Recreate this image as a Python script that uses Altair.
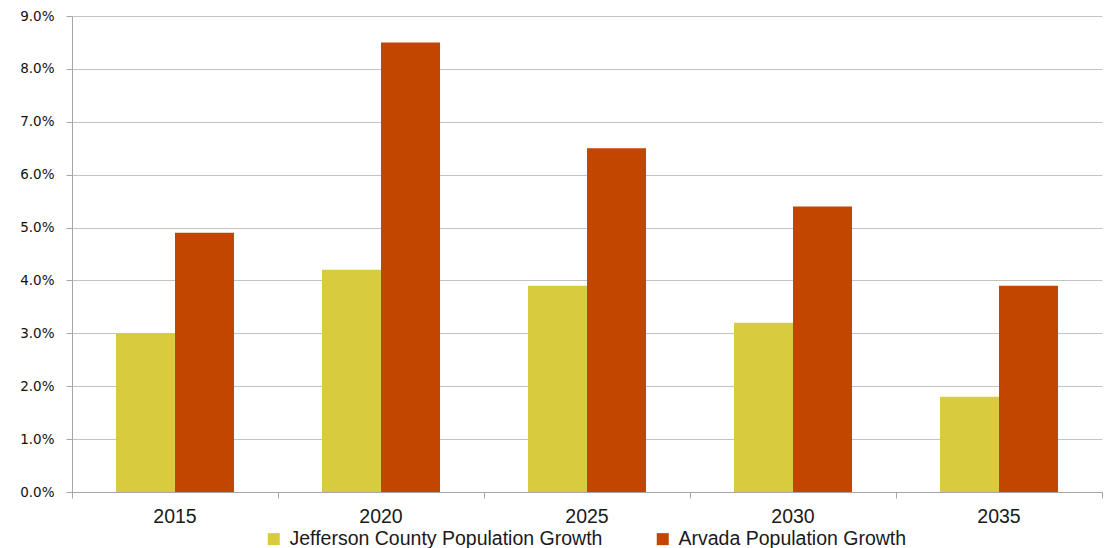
import altair as alt
import pandas as pd

years = ["2015", "2020", "2025", "2030", "2035"]
series_names = ["Jefferson County Population Growth", "Arvada Population Growth"]
jefferson_growth = [0.030, 0.042, 0.039, 0.032, 0.018]
arvada_growth = [0.049, 0.085, 0.065, 0.054, 0.039]
series_colors = ["#D8CB3E", "#C24600"]
y_ticks = [0.00, 0.01, 0.02, 0.03, 0.04, 0.05, 0.06, 0.07, 0.08, 0.09]
band_edges = [0, 1, 2, 3, 4, 5]

rows = []
for i, yr in enumerate(years):
    rows.append({"year": yr, "series": series_names[0], "growth": jefferson_growth[i]})
    rows.append({"year": yr, "series": series_names[1], "growth": arvada_growth[i]})
df = pd.DataFrame(rows)
edges_df = pd.DataFrame({"edge": band_edges})

bars = alt.Chart(df).mark_bar().encode(
    x=alt.X(
        "year:N",
        sort=years,
        title=None,
        scale=alt.Scale(paddingInner=0.427, paddingOuter=0.2135),
        axis=alt.Axis(
            orient="bottom",
            ticks=False,
            tickSize=0,
            labelAngle=0,
            labelFont="Liberation Sans",
            labelFontSize=19.5,
            labelColor="#1a1a1a",
            labelPadding=15,
            domainColor="#a6a6a6",
            domainWidth=1,
            grid=False,
        ),
    ),
    xOffset=alt.XOffset("series:N", sort=series_names),
    y=alt.Y(
        "growth:Q",
        title=None,
        scale=alt.Scale(domain=[0, 0.09], nice=False),
        axis=alt.Axis(
            values=y_ticks,
            format=".1%",
            labelFont="DejaVu Sans",
            labelFontSize=13.5,
            labelColor="#111111",
            labelPadding=12,
            tickSize=6,
            tickColor="#a6a6a6",
            domainColor="#a6a6a6",
            gridColor="#c3c3c3",
            gridWidth=1,
        ),
    ),
    color=alt.Color(
        "series:N",
        sort=series_names,
        scale=alt.Scale(domain=series_names, range=series_colors),
        legend=alt.Legend(
            title=None,
            orient="none",
            direction="horizontal",
            legendX=192,
            legendY=513,
            padding=0,
            symbolType="square",
            symbolSize=144,
            symbolStrokeWidth=0,
            labelFont="Liberation Sans",
            labelFontSize=19.5,
            labelColor="#1a1a1a",
            labelOffset=6,
            columnPadding=50,
            labelLimit=500,
        ),
    ),
)

# category boundary ticks along the bottom axis
edge_ticks = alt.Chart(edges_df).mark_point(opacity=0).encode(
    x=alt.X(
        "edge:Q",
        title=None,
        scale=alt.Scale(domain=[0, 5], nice=False, zero=False),
        axis=alt.Axis(
            orient="bottom",
            values=band_edges,
            labels=False,
            domain=False,
            grid=False,
            tickSize=6,
            tickColor="#a6a6a6",
        ),
    ),
)

chart = (
    alt.layer(bars, edge_ticks)
    .resolve_scale(x="independent")
    .properties(
        width=1030,
        height=476,
        autosize=alt.AutoSizeParams(type="none"),
        padding={"left": 72, "top": 16, "right": 4, "bottom": 56},
        background="white",
    )
    .configure_view(stroke=None)
)

chart.save("out.html", embed_options={"renderer": "svg", "actions": False})
